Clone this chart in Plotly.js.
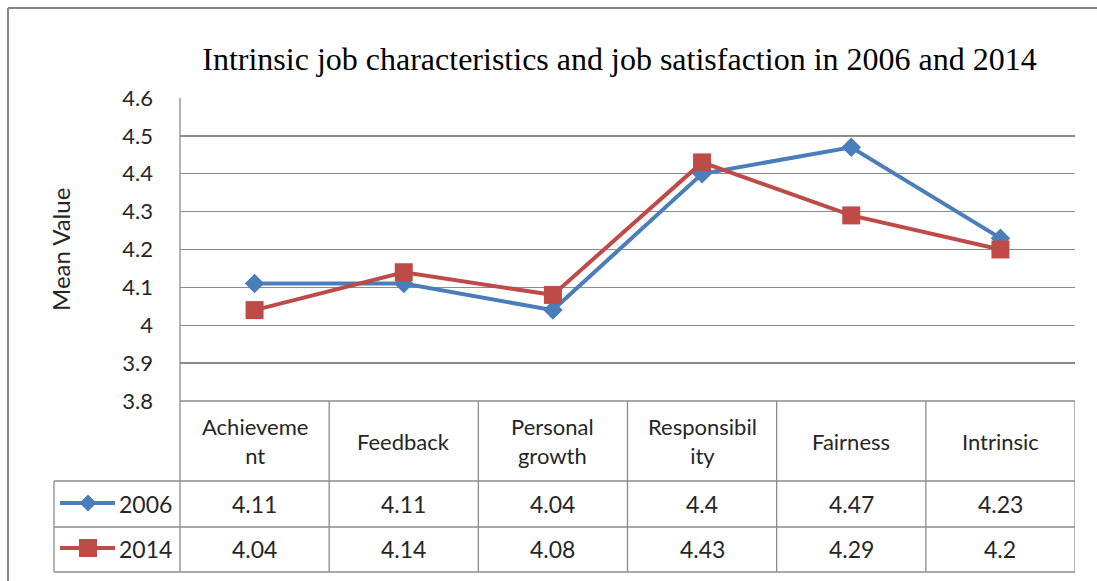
<!DOCTYPE html>
<html>
<head>
<meta charset="utf-8">
<script src="https://cdn.plot.ly/plotly-3.0.1.min.js"></script>
<style>html,body{margin:0;padding:0;background:#fff;}#chart{width:1097px;height:581px;}</style>
</head>
<body>
<div id="chart"></div>
<script>
// ---- data ----
const categories = ['Achievement', 'Feedback', 'Personal growth', 'Responsibility', 'Fairness', 'Intrinsic'];
const tableLabels = ['Achieveme<br>nt', 'Feedback', 'Personal<br>growth', 'Responsibil<br>ity', 'Fairness', 'Intrinsic'];
const seriesNames = ['2006', '2014'];
const values2006 = [4.11, 4.11, 4.04, 4.4, 4.47, 4.23];
const values2014 = [4.04, 4.14, 4.08, 4.43, 4.29, 4.2];
const yTickVals = [3.8, 3.9, 4.0, 4.1, 4.2, 4.3, 4.4, 4.5, 4.6];
const yTickText = ['3.8', '3.9', '4', '4.1', '4.2', '4.3', '4.4', '4.5', '4.6'];
const titleText = 'Intrinsic job characteristics and job satisfaction in 2006 and 2014';
const yTitle = 'Mean Value';

// ---- layout helpers ----
const W = 1097, H = 581;
const px = x => x / W;
const py = y => 1 - y / H;
const colors = ['#4A7EBB', '#BE4B48'];
const symbols = ['diamond', 'square'];
const sizes = [15, 18];
const gridColor = '#8C8C8C';
const textColor = '#262626';
const sans = 'Lato, "Liberation Sans", sans-serif';

const plotLeft = 180, plotRight = 1075, plotTop = 98, plotBottom = 401;
const catRowBottom = 481, row1Bottom = 527, row2Bottom = 572, tableLeft = 54;
const rowCenters = [504, 549];

const seriesValues = [values2006, values2014];

const traces = seriesValues.map((vals, i) => ({
  type: 'scatter', mode: 'lines+markers',
  x: categories, y: vals, name: seriesNames[i],
  line: {color: colors[i], width: 4},
  marker: {symbol: symbols[i], size: sizes[i], color: colors[i]},
  hoverinfo: 'skip', showlegend: false
}));

const shapes = [];
const ln = (x0, y0, x1, y1, extra) => Object.assign({type: 'line', xref: 'paper', yref: 'paper',
  x0: px(x0), y0: py(y0), x1: px(x1), y1: py(y1), line: {color: gridColor, width: 1.3}, layer: 'above'}, extra || {});

// outer chart frame (cropped)
shapes.push(ln(8, 8, 1097, 8, {line: {color: '#868686', width: 2}}));
shapes.push(ln(8, 8, 8, 581, {line: {color: '#868686', width: 2}}));
// left axis line
shapes.push(ln(plotLeft, plotTop, plotLeft, row2Bottom));
// table horizontal lines
shapes.push(ln(plotLeft, plotBottom, plotRight, plotBottom));
shapes.push(ln(tableLeft, catRowBottom, plotRight, catRowBottom));
shapes.push(ln(tableLeft, row1Bottom, plotRight, row1Bottom));
shapes.push(ln(tableLeft, row2Bottom, plotRight, row2Bottom));
shapes.push(ln(tableLeft, catRowBottom, tableLeft, row2Bottom));
// table vertical separators at category boundaries
for (let i = 0; i < categories.length; i++) {
  shapes.push({type: 'line', xref: 'x', yref: 'paper', x0: i + 0.5, x1: i + 0.5,
    y0: py(plotBottom), y1: py(row2Bottom), line: {color: gridColor, width: 1.3}, layer: 'above'});
}

// legend keys
const keyX0 = 60, keyX1 = 115, keyMid = 88;
seriesNames.forEach((n, i) => {
  const yc = rowCenters[i] - 1;
  shapes.push({type: 'line', xref: 'paper', yref: 'paper', x0: px(keyX0), x1: px(keyX1), y0: py(yc), y1: py(yc),
    line: {color: colors[i], width: 4}, layer: 'above'});
  if (symbols[i] === 'diamond') {
    const r = 8.5;
    shapes.push({type: 'path', xref: 'paper', yref: 'paper',
      path: `M ${px(keyMid - r)} ${py(yc)} L ${px(keyMid)} ${py(yc - r)} L ${px(keyMid + r)} ${py(yc)} L ${px(keyMid)} ${py(yc + r)} Z`,
      fillcolor: colors[i], line: {width: 0}, layer: 'above'});
  } else {
    const r = 9;
    shapes.push({type: 'rect', xref: 'paper', yref: 'paper',
      x0: px(keyMid - r), x1: px(keyMid + r), y0: py(yc - r), y1: py(yc + r),
      fillcolor: colors[i], line: {width: 0}, layer: 'above'});
  }
});

const annotations = [];
// y axis title
annotations.push({text: yTitle, xref: 'paper', yref: 'paper', x: px(60), y: py(250), showarrow: false,
  textangle: -90, font: {family: sans, size: 24, color: textColor}, xanchor: 'center', yanchor: 'middle'});
// category labels
tableLabels.forEach((t, i) => {
  annotations.push({text: t, xref: 'x', yref: 'paper', x: categories[i], y: py((plotBottom + catRowBottom) / 2),
    showarrow: false, font: {family: sans, size: 22, color: textColor}, xanchor: 'center', yanchor: 'middle'});
});
// series names in table
seriesNames.forEach((n, i) => {
  annotations.push({text: n, xref: 'paper', yref: 'paper', x: px(117), y: py(rowCenters[i]), showarrow: false,
    font: {family: sans, size: 23, color: textColor}, xanchor: 'left', yanchor: 'middle'});
  seriesValues[i].forEach((v, j) => {
    annotations.push({text: String(v), xref: 'x', yref: 'paper', x: categories[j], y: py(rowCenters[i]),
      showarrow: false, font: {family: sans, size: 23, color: textColor}, xanchor: 'center', yanchor: 'middle'});
  });
});

const layout = {
  width: W, height: H,
  margin: {l: 0, r: 0, t: 0, b: 0},
  paper_bgcolor: '#fff', plot_bgcolor: '#fff',
  showlegend: false,
  title: {text: titleText, x: px(619.5), xanchor: 'center', y: py(59), yanchor: 'middle',
    font: {family: '"Liberation Serif", "Times New Roman", serif', size: 32, color: '#000'}},
  xaxis: {domain: [px(plotLeft), px(plotRight)], type: 'category', range: [-0.5, 5.5],
    showticklabels: false, showgrid: false, zeroline: false, showline: false, ticks: ''},
  yaxis: {domain: [py(plotBottom), py(plotTop)], range: [3.8, 4.6], tickvals: yTickVals, ticktext: yTickText,
    showgrid: true, gridcolor: gridColor, gridwidth: 1.3, zeroline: false, showline: false, ticks: '',
    ticklabelstandoff: 26, tickfont: {family: sans, size: 22, color: textColor}},
  shapes: shapes,
  annotations: annotations
};

Plotly.newPlot('chart', traces, layout, {staticPlot: true, displayModeBar: false});
</script>
</body>
</html>
